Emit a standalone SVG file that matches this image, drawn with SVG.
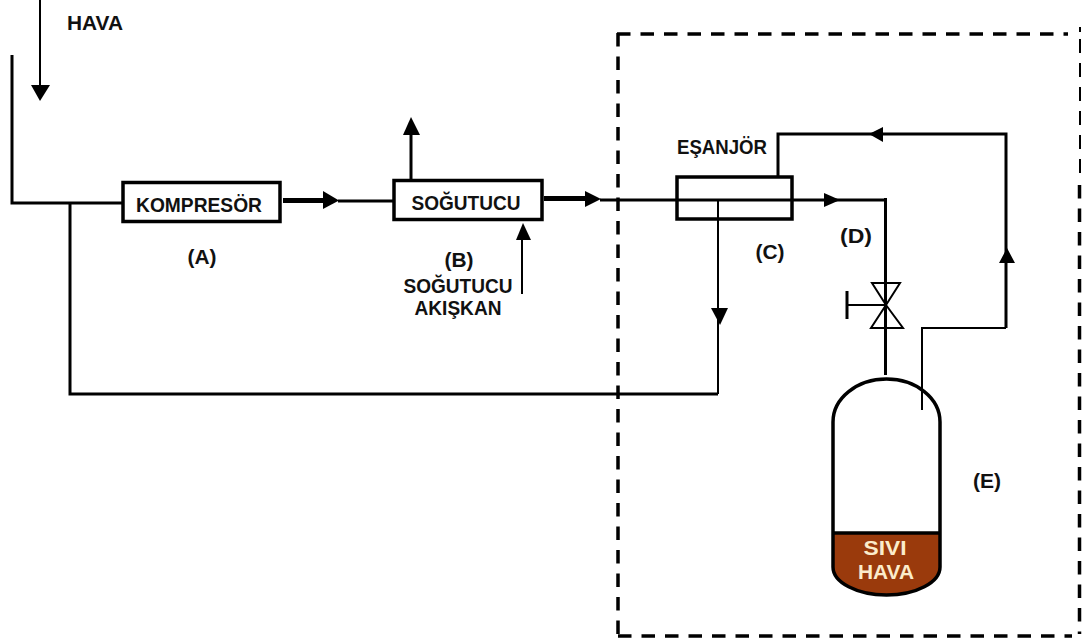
<svg xmlns="http://www.w3.org/2000/svg" width="1085" height="643" viewBox="0 0 1085 643">
<style>
.ln{fill:none;stroke:#000;stroke-width:3}
.thin{fill:none;stroke:#000;stroke-width:2}
.thick{fill:none;stroke:#000;stroke-width:5}
.box{fill:#fff;stroke:#000;stroke-width:3.5}
.open{fill:none;stroke:#000;stroke-width:3.5}
.dash{fill:none;stroke:#000;stroke-width:3.5;stroke-dasharray:13.500 10}
.hd{fill:#000;stroke:none}
text{font-family:"Liberation Sans",Arial,sans-serif;font-weight:bold;font-size:21px;fill:#111;text-anchor:middle}
.lt{fill:#fbeccb;font-size:20px}
</style>
<rect width="1085" height="643" fill="#fff"/>
<g id="boundary">
<path class="dash" d="M617 34H1068"/>
<path class="dash" d="M618 33V634"/>
<path class="dash" d="M618 636H1072"/>
<path class="thin" stroke-dasharray="5 6" d="M1080 27V33"/>
<path class="thin" stroke-dasharray="14 10" d="M1080 39V178"/>
<path class="dash" d="M1079.500 185V634"/>
</g>
<g id="connectors">
<path class="ln" d="M12 55V203H122"/>
<path class="ln" d="M70 203V394H718"/>
<path class="thin" d="M718 394V200"/>
<path class="thin" d="M40 0V90"/>
<path class="hd" d="M31 85H50L40 101Z"/>
<path class="thick" d="M283 200.500H326"/>
<path class="hd" d="M323 191L339 200.500L323 209Z"/>
<path class="ln" d="M338 201H394"/>
<path class="ln" d="M411 180V130"/>
<path class="hd" d="M411 117L420 135H403Z"/>
<path class="thick" d="M544 198.500H590"/>
<path class="hd" d="M585 191L601 199L585 207Z"/>
<path class="ln" d="M600 200H885"/>
<path class="hd" d="M824 193L840 200L824 207Z"/>
<path class="ln" d="M885.500 198V375"/>
<path class="ln" d="M778 177V134H1006V328"/>
<path class="hd" d="M869 134L883 127V142Z"/>
<path class="hd" d="M1007 248L1015 263H999Z"/>
<path class="thin" d="M1006 328H922V410"/>
<path class="hd" d="M711 308H728L720 325Z"/>
<path class="thin" d="M522 294V235"/>
<path class="hd" d="M523 223L531 240H516Z"/>
</g>
<g id="kompresor">
<rect class="box" x="123" y="182.500" width="157" height="39"/>
<text x="199" y="212" textLength="126" lengthAdjust="spacingAndGlyphs">KOMPRESÖR</text>
<text x="202" y="264" textLength="29" lengthAdjust="spacingAndGlyphs">(A)</text>
</g>
<g id="sogutucu">
<rect class="box" x="394" y="180.500" width="148" height="39"/>
<text x="466" y="210" textLength="109" lengthAdjust="spacingAndGlyphs">SOĞUTUCU</text>
<text x="459" y="267" textLength="29" lengthAdjust="spacingAndGlyphs">(B)</text>
<text x="458" y="293" textLength="109" lengthAdjust="spacingAndGlyphs">SOĞUTUCU</text>
<text x="458" y="315" textLength="87" lengthAdjust="spacingAndGlyphs">AKIŞKAN</text>
</g>
<g id="esanjor">
<path class="open" d="M677 177H792V219H677Z"/>
<text x="722" y="154" textLength="90" lengthAdjust="spacingAndGlyphs">EŞANJÖR</text>
<text x="770" y="259" textLength="29" lengthAdjust="spacingAndGlyphs">(C)</text>
</g>
<g id="valve">
<path class="thin" d="M872 283H900L886 305L871 328H903L886 305Z"/>
<path class="thin" d="M847 305H886"/>
<path class="ln" d="M847 291V319"/>
<text x="856" y="243" textLength="32" lengthAdjust="spacingAndGlyphs">(D)</text>
</g>
<g id="tank">
<path fill="#9a3a0c" d="M833 533H940V567A53.500 28 0 0 1 833 567Z"/>
<path class="open" d="M833 533H940"/>
<path class="open" d="M833 567V422A53.500 43 0 0 1 940 422V567A53.500 28 0 0 1 833 567Z"/>
<text class="lt" x="885" y="555" textLength="43" lengthAdjust="spacingAndGlyphs">SIVI</text>
<text class="lt" x="886" y="579" textLength="56" lengthAdjust="spacingAndGlyphs">HAVA</text>
<text x="987" y="488" textLength="28" lengthAdjust="spacingAndGlyphs">(E)</text>
</g>
<g id="hava">
<text x="95" y="30" textLength="56" lengthAdjust="spacingAndGlyphs">HAVA</text>
</g>
</svg>
